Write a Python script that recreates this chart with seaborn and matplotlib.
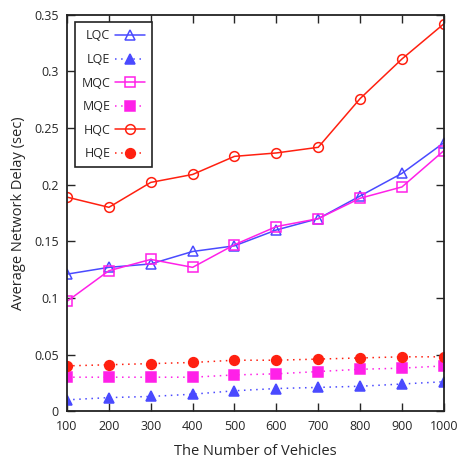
import matplotlib
matplotlib.use("Agg")
import matplotlib.pyplot as plt
import seaborn as sns
import pandas as pd

vehicles = [100, 200, 300, 400, 500, 600, 700, 800, 900, 1000]
lqc = [0.121, 0.127, 0.130, 0.141, 0.146, 0.160, 0.170, 0.190, 0.210, 0.237]
lqe = [0.010, 0.012, 0.013, 0.015, 0.018, 0.020, 0.021, 0.022, 0.024, 0.026]
mqc = [0.097, 0.124, 0.134, 0.127, 0.147, 0.163, 0.170, 0.188, 0.198, 0.230]
mqe = [0.030, 0.030, 0.030, 0.030, 0.032, 0.033, 0.035, 0.037, 0.038, 0.040]
hqc = [0.189, 0.180, 0.202, 0.209, 0.225, 0.228, 0.233, 0.276, 0.311, 0.342]
hqe = [0.040, 0.041, 0.042, 0.043, 0.045, 0.045, 0.046, 0.047, 0.048, 0.048]

series = {"LQC": lqc, "LQE": lqe, "MQC": mqc, "MQE": mqe, "HQC": hqc, "HQE": hqe}
styles = {
    "LQC": dict(color="#4a4aff", marker="^", ls="-", mfc="none"),
    "LQE": dict(color="#4a4aff", marker="^", ls=(0, (1, 3)), mfc="#4a4aff"),
    "MQC": dict(color="#ff20e8", marker="s", ls="-", mfc="none"),
    "MQE": dict(color="#ff20e8", marker="s", ls=(0, (1, 3)), mfc="#ff20e8"),
    "HQC": dict(color="#ff2010", marker="o", ls="-", mfc="none"),
    "HQE": dict(color="#ff2010", marker="o", ls=(0, (1, 3)), mfc="#ff2010"),
}

sns.set_style("ticks")
plt.rcParams["font.family"] = ["Open Sans", "DejaVu Sans"]

fig = plt.figure(figsize=(4.59, 4.62), dpi=100)
ax = fig.add_axes([0.146, 0.110, 0.821, 0.858])

for name, vals in series.items():
    df = pd.DataFrame({"x": vehicles, "y": vals})
    st = styles[name]
    sns.lineplot(data=df, x="x", y="y", ax=ax, color=st["color"], linestyle=st["ls"],
                 marker=st["marker"], markerfacecolor=st["mfc"], markeredgecolor=st["color"],
                 markersize=7, markeredgewidth=1.1, linewidth=1.1, label=name)

ax.set_xlim(100, 1000)
ax.set_ylim(0, 0.35)
ax.set_xticks(vehicles)
ax.set_xticklabels([str(v) for v in vehicles])
ax.set_yticks([0, 0.05, 0.1, 0.15, 0.2, 0.25, 0.3, 0.35])
ax.set_yticklabels(["0", "0.05", "0.1", "0.15", "0.2", "0.25", "0.3", "0.35"])
ax.tick_params(direction="in", top=True, right=True, length=6, width=1, labelsize=9, pad=6)
for sp in ax.spines.values():
    sp.set_visible(True)
    sp.set_linewidth(1.3)
    sp.set_color("#222222")
ax.set_xlabel("The Number of Vehicles", fontsize=10.5, labelpad=8)
ax.set_ylabel("Average Network Delay (sec)", fontsize=10.5, labelpad=6)

leg = ax.legend(loc="upper left", markerfirst=False, fancybox=False, framealpha=1,
                edgecolor="#222222", fontsize=9, labelspacing=0.85, handlelength=2.4,
                handletextpad=0.4, borderpad=0.55, borderaxespad=0.3,
                bbox_to_anchor=(0.01, 0.99))
leg.get_frame().set_linewidth(1.2)

fig.savefig("out.png", dpi=100)
